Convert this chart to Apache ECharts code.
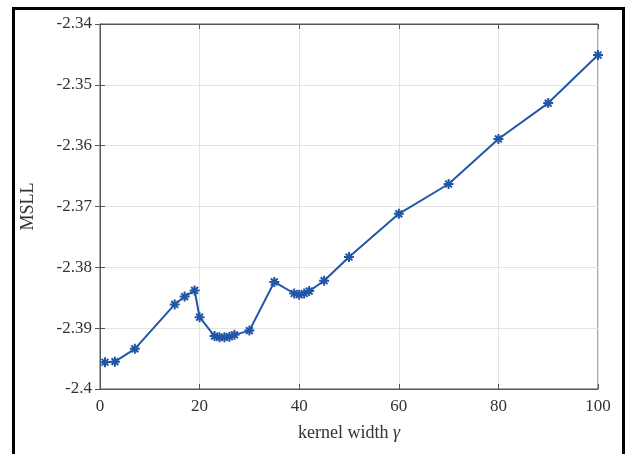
<!DOCTYPE html>
<html>
<head>
<meta charset="utf-8">
<script src="https://cdn.jsdelivr.net/npm/echarts@6/dist/echarts.min.js"></script>
<style>html,body{margin:0;padding:0;background:#fff}#c{width:626px;height:454px}</style>
</head>
<body>
<div id="c"></div>
<script>
const gammaValues = [1, 3, 7, 15, 17, 19, 20, 23, 24, 25, 26, 27, 30, 35, 39, 40, 41, 42, 45, 50, 60, 70, 80, 90, 100];
const msllValues = [-2.3956, -2.3955, -2.3934, -2.3861, -2.3848, -2.3838, -2.3882, -2.3913, -2.3915, -2.3915, -2.3914, -2.3911, -2.3904, -2.3824, -2.3843, -2.3845, -2.3843, -2.3839, -2.3822, -2.3783, -2.3712, -2.3663, -2.3589, -2.3530, -2.3451];
const xTicks = {min: 0, max: 100, interval: 20};
const yTicks = {min: -2.4, max: -2.34, interval: 0.01};

const font = '"Liberation Serif", "Times New Roman", serif';
const axisColor = '#555555';
const labelColor = '#333333';
const chart = echarts.init(document.getElementById('c'), null, {renderer: 'canvas'});
const fmtY = v => String(parseFloat(v.toFixed(4)));
const tickIn = {show: true, inside: true, length: 5, lineStyle: {color: axisColor, width: 1}};
chart.setOption({
  animation: false,
  graphic: [{
    type: 'rect', left: 11, top: 6, shape: {x: 0, y: 0, width: 610, height: 470},
    style: {fill: 'none', stroke: '#000', lineWidth: 3}, silent: true, z: 100
  }],
  grid: {left: 100, right: 28, top: 24, bottom: 65, show: true, borderColor: axisColor, borderWidth: 1},
  xAxis: [{
    type: 'value', min: xTicks.min, max: xTicks.max, interval: xTicks.interval,
    axisLine: {show: true, onZero: false, lineStyle: {color: axisColor}},
    axisTick: tickIn,
    axisLabel: {color: labelColor, fontFamily: font, fontSize: 17, margin: 9},
    splitLine: {show: true, lineStyle: {color: '#e3e3e3'}},
    name: 'kernel width {g|γ}', nameLocation: 'middle', nameGap: 35,
    nameTextStyle: {color: labelColor, fontFamily: font, fontSize: 18,
      rich: {g: {fontFamily: font, fontStyle: 'italic', fontSize: 18, color: labelColor}}}
  }, {
    type: 'value', position: 'top', min: xTicks.min, max: xTicks.max, interval: xTicks.interval,
    axisLine: {show: true, lineStyle: {color: axisColor}}, axisTick: tickIn,
    axisLabel: {show: false}, splitLine: {show: false}
  }],
  yAxis: [{
    type: 'value', min: yTicks.min, max: yTicks.max, interval: yTicks.interval,
    axisLine: {show: true, onZero: false, lineStyle: {color: axisColor}},
    axisTick: tickIn,
    axisLabel: {color: labelColor, fontFamily: font, fontSize: 17, margin: 8, formatter: fmtY},
    splitLine: {show: true, lineStyle: {color: '#e3e3e3'}},
    name: 'MSLL', nameLocation: 'middle', nameGap: 63, nameRotate: 90,
    nameTextStyle: {color: labelColor, fontFamily: font, fontSize: 18}
  }, {
    type: 'value', position: 'right', min: yTicks.min, max: yTicks.max, interval: yTicks.interval,
    axisLine: {show: true, lineStyle: {color: axisColor}}, axisTick: tickIn,
    axisLabel: {show: false}, splitLine: {show: false}
  }],
  series: [{
    type: 'line',
    data: gammaValues.map((g, i) => [g, msllValues[i]]),
    symbol: 'path://M0,5 L10,5 M5,0 L5,10 M1.6,1.6 L8.4,8.4 M8.4,1.6 L1.6,8.4',
    symbolSize: 10,
    showAllSymbol: true,
    lineStyle: {color: '#2157a6', width: 2},
    itemStyle: {color: '#2157a6', borderColor: '#2157a6', borderWidth: 2},
    z: 5
  }]
});
</script>
</body>
</html>
